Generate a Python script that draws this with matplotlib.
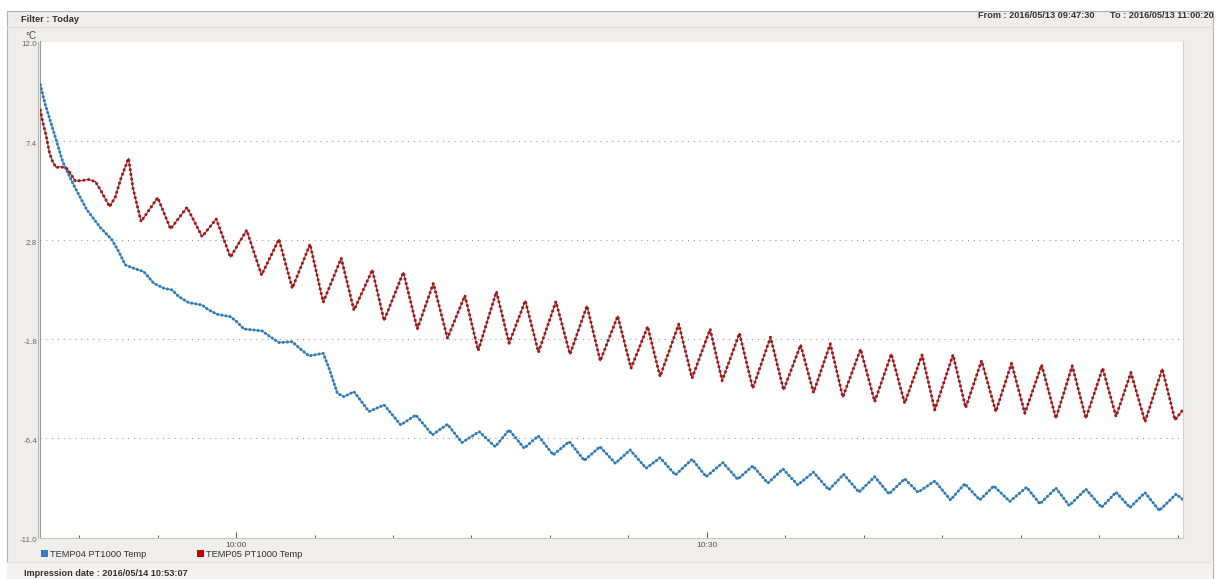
import matplotlib
matplotlib.use('Agg')
import matplotlib.pyplot as plt
from matplotlib.patches import Rectangle, Patch
from matplotlib.lines import Line2D

plt.rcParams['font.family'] = ['Liberation Sans', 'DejaVu Sans']

# time = minutes after 09:00, values in °C (turning points)
temp04_min = [47.52, 47.84, 48.37, 48.96, 49.64, 50.49, 51.35, 52.09, 52.52, 52.94,
              53.36, 54.11, 54.75, 55.39, 55.92, 56.34, 56.98, 57.83, 58.26, 58.79,
              59.64, 60.05, 60.49, 61.66, 62.09, 62.73, 63.58, 64.00, 64.64, 65.55,
              65.92, 66.45, 66.87, 67.51, 68.47, 69.43, 70.49, 71.45, 72.51, 73.47,
              74.39, 75.49, 76.51, 77.40, 78.36, 79.26, 80.21, 81.23, 82.19, 83.19,
              84.17, 85.11, 86.13, 87.02, 88.00, 89.06, 89.96, 91.02, 91.97, 92.93,
              93.89, 94.85, 95.80, 96.80, 97.78, 98.72, 99.70, 100.70, 101.61, 102.61,
              103.46, 104.53, 105.53, 106.44, 107.40, 108.29, 109.31, 110.38, 111.23, 112.25,
              113.10, 114.16, 115.16, 116.08, 116.97, 117.93, 118.84, 119.91, 120.30]
temp04_val = [10.00, 9.06, 7.82, 6.40, 5.35, 4.19, 3.37, 2.80, 2.25, 1.64,
              1.51, 1.33, 0.79, 0.56, 0.48, 0.17, -0.11, -0.22, -0.45, -0.65,
              -0.76, -1.00, -1.33, -1.42, -1.65, -1.96, -1.92, -2.20, -2.58, -2.46,
              -3.15, -4.31, -4.47, -4.24, -5.16, -4.85, -5.78, -5.32, -6.24, -5.75,
              -6.60, -6.09, -6.79, -6.01, -6.86, -6.29, -7.17, -6.55, -7.43, -6.79,
              -7.56, -6.94, -7.79, -7.30, -8.10, -7.37, -8.18, -7.53, -8.30, -7.68,
              -8.48, -7.82, -8.56, -7.97, -8.79, -8.07, -8.90, -8.18, -8.98, -8.28,
              -8.90, -8.38, -9.26, -8.51, -9.26, -8.61, -9.33, -8.67, -9.44, -8.71,
              -9.52, -8.76, -9.60, -8.90, -9.61, -8.92, -9.75, -8.99, -9.22]

temp05_min = [47.52, 47.67, 47.88, 48.11, 48.32, 48.54, 48.81, 49.22, 49.43, 49.75,
              50.15, 50.60, 51.03, 51.35, 51.94, 52.31, 52.66, 53.14, 53.43, 53.94,
              55.00, 55.82, 56.87, 57.83, 58.73, 59.64, 60.67, 61.62, 62.73, 63.58,
              64.71, 65.55, 66.70, 67.51, 68.68, 69.43, 70.66, 71.55, 72.57, 73.47,
              74.58, 75.43, 76.59, 77.40, 78.43, 79.27, 80.38, 81.28, 82.36, 83.21,
              84.32, 85.17, 86.23, 87.02, 88.21, 89.06, 90.21, 90.98, 92.08, 92.93,
              94.06, 94.89, 95.98, 96.80, 97.87, 98.67, 99.80, 100.70, 101.76, 102.61,
              103.72, 104.53, 105.69, 106.50, 107.51, 108.42, 109.42, 110.27, 111.34, 112.25,
              113.29, 114.16, 115.23, 116.08, 117.03, 117.93, 119.03, 119.84, 120.30]
temp05_val = [8.82, 8.28, 7.67, 6.82, 6.40, 6.15, 6.20, 6.10, 5.89, 5.53,
              5.55, 5.60, 5.50, 5.12, 4.34, 4.81, 5.66, 6.58, 5.19, 3.65,
              4.76, 3.31, 4.31, 2.95, 3.77, 2.00, 3.25, 1.17, 2.83, 0.56,
              2.60, -0.09, 1.95, -0.46, 1.41, -0.94, 1.30, -1.33, 0.79, -1.76,
              0.22, -2.33, 0.40, -1.99, -0.02, -2.41, -0.06, -2.50, -0.26, -2.81,
              -0.73, -3.15, -1.22, -3.54, -1.10, -3.61, -1.34, -3.73, -1.53, -4.08,
              -1.71, -4.16, -2.07, -4.28, -2.02, -4.49, -2.27, -4.70, -2.49, -4.77,
              -2.53, -5.08, -2.53, -4.98, -2.80, -5.16, -2.92, -5.24, -3.00, -5.47,
              -3.04, -5.47, -3.15, -5.39, -3.35, -5.63, -3.18, -5.55, -5.12]

series_names = ['TEMP04 PT1000 Temp', 'TEMP05 PT1000 Temp']
y_ticks = [12.0, 7.4, 2.8, -1.8, -6.4, -11.0]
x_major = [60, 90]
x_major_labels = ['10:00', '10:30']
x_minor = [50, 55, 65, 70, 75, 80, 85, 95, 100, 105, 110, 115, 120]

W, H = 1217, 579
def fy(y):
    return 1 - y / H

fig = plt.figure(figsize=(W / 100, H / 100), dpi=100)
fig.patch.set_facecolor('white')

# gray frame of the report
fig.add_artist(Rectangle((7 / W, 0), (1213 - 7) / W, fy(11), transform=fig.transFigure,
                         facecolor='#efeeea', edgecolor='#a9b4be', lw=0.8, zorder=0))
fig.add_artist(Rectangle((7 / W, 0), (1213 - 7) / W, fy(562), transform=fig.transFigure,
                         facecolor='#f4f3f0', edgecolor='none', zorder=0))
fig.add_artist(Line2D([7 / W, 1213 / W], [fy(26.5)] * 2, color='#dcdcd8', lw=0.8))
fig.add_artist(Line2D([7 / W, 1213 / W], [fy(562)] * 2, color='#e2e1dd', lw=0.8))
fig.add_artist(Line2D([38 / W] * 2, [fy(41.5), fy(537.5)], color='#b5b5b5', lw=0.8))

ax = fig.add_axes([40 / W, fy(537.5), (1183 - 40) / W, (537.5 - 41.5) / H])
ax.set_facecolor('white')
ax.spines['top'].set_visible(False)
ax.spines['left'].set_color('#9a9a9a')
ax.spines['bottom'].set_color('#c4c4c4')
ax.spines['right'].set_color('#d0d0d0')
ax.spines['right'].set_linewidth(0.8)

for v in y_ticks[1:-1]:
    ax.axhline(v, color='#8a8a8a', lw=0.7, ls=(0, (1, 5)), zorder=1)

# lines plus a dotted overlay that gives the beaded look of the markers
ax.plot(temp04_min, temp04_val, color='#5a98cc', lw=0.9, zorder=3)
ax.plot(temp04_min, temp04_val, color='#2f7ab9', lw=2.2, ls=(0, (0.05, 1.3)),
        dash_capstyle='round', zorder=4)
ax.plot(temp05_min, temp05_val, color='#b03030', lw=0.8, zorder=3)
ax.plot(temp05_min, temp05_val, color='#a01a1a', lw=2.2, ls=(0, (0.05, 1.5)),
        dash_capstyle='round', zorder=4)

ax.set_xlim(47.5, 120.35)
ax.set_ylim(-11, 12)

ax.set_yticks(y_ticks)
ax.set_yticklabels([f'{v:.1f}' for v in y_ticks])
ax.tick_params(axis='y', length=0, pad=2, labelsize=5.8, labelcolor='#666666')
for lab in ax.get_yticklabels():
    lab.set_verticalalignment('top')

ax.set_xticks(x_major)
ax.set_xticklabels(x_major_labels)
ax.set_xticks(x_minor, minor=True)
ax.tick_params(axis='x', which='major', direction='in', length=4, width=0.8,
               color='#666666', labelsize=6, labelcolor='#555555', pad=3)
ax.tick_params(axis='x', which='minor', direction='in', length=2, width=0.8, color='#666666')

fig.text(31 / W, fy(36), '°C', ha='center', va='center', fontsize=7, color='#444444')

fig.legend(handles=[Patch(facecolor='#2f7fc8'), Patch(facecolor='#c00000')], labels=series_names,
           loc='center left', bbox_to_anchor=(41 / W, fy(554.5)), ncol=2, frameon=False,
           fontsize=6.7, handlelength=0.75, handleheight=0.8, handletextpad=0.2,
           columnspacing=5.5, borderpad=0, borderaxespad=0, labelcolor='#333333')

fig.text(21 / W, fy(19.5), 'Filter : Today', fontweight='bold', fontsize=6.7, color='#333333', va='center')
fig.text(1094 / W, fy(16), 'From : 2016/05/13 09:47:30', fontweight='bold', fontsize=6.6,
         color='#333333', va='center', ha='right')
fig.text(1214 / W, fy(16), 'To : 2016/05/13 11:00:20', fontweight='bold', fontsize=6.6,
         color='#333333', va='center', ha='right')
fig.text(24 / W, fy(574), 'Impression date : 2016/05/14 10:53:07', fontweight='bold', fontsize=6.6,
         color='#333333', va='center')

fig.savefig('out.png', dpi=100, facecolor=fig.get_facecolor())
